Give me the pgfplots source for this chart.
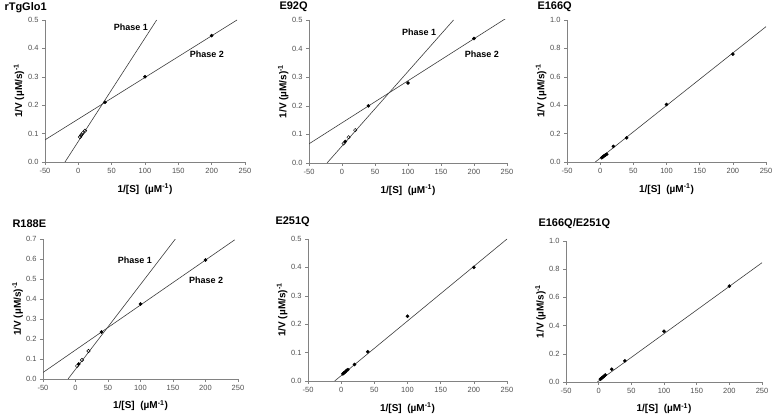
\documentclass[border=0pt]{standalone}
\usepackage{fontspec}
\setmainfont{Liberation Sans}
\usepackage{pgfplots}
\pgfplotsset{compat=1.18}
\definecolor{axgray}{RGB}{130,130,130}
\definecolor{tickgray}{RGB}{80,80,80}
\definecolor{linegray}{RGB}{60,60,60}
\tikzset{
  phaselab/.style={font=\bfseries\fontsize{9bp}{10bp}\selectfont},
  ttl/.style={anchor=west, font=\bfseries\fontsize{11bp}{12bp}\selectfont},
}
\pgfplotsset{
  panel/.style={
    scale only axis,
    anchor=south west,
    xmin=-50, xmax=250, ymin=0,
    enlargelimits=false,
    axis x line=bottom, axis y line=left,
    axis line style={-, axgray, line width=0.6pt},
    tick align=outside,
    major tick length=3bp,
    every tick/.style={axgray, line width=0.5pt},
    xtick={-50,0,50,100,150,200,250},
    tick label style={font=\fontsize{7.5bp}{8bp}\selectfont, text=tickgray},
    /pgf/number format/assume math mode=true,
    yticklabel style={/pgf/number format/.cd, fixed, fixed zerofill, precision=1},
    xticklabel style={/pgf/number format/.cd, fixed},
    xlabel={\textbf{1/[S]\ \ (µM\textsuperscript{-1})}},
    ylabel={\textbf{1/V (µM/s)\textsuperscript{-1}}},
    label style={font=\fontsize{10bp}{11bp}\selectfont},
    xlabel style={at={(axis description cs:0.5,-0.19)}, anchor=center},
    ylabel style={at={(axis description cs:-0.13,0.5)}, anchor=center},
    clip=true,
  },
  fitline/.style={linegray, line width=0.6pt, no marks},
  filled/.style={only marks, mark=*, mark size=1.6pt, mark options={fill=black, draw=black}},
  opened/.style={only marks, mark=o, mark size=1.7pt, mark options={fill=white, draw=black, line width=0.45pt}},
}
\begin{document}
\begin{tikzpicture}
\useasboundingbox (0,0) rectangle (778bp,414bp);
% titles
\node[ttl] at (1bp,406bp) {rTgGlo1};
\node[ttl] at (276bp,407bp) {E92Q};
\node[ttl] at (534bp,407bp) {E166Q};
\node[ttl] at (9bp,190bp) {R188E};
\node[ttl] at (272bp,192bp) {E251Q};
\node[ttl] at (535bp,190bp) {E166Q/E251Q};

% Panel 1: rTgGlo1
\begin{axis}[panel, at={(45bp,252bp)}, width=200bp, height=142bp, ymax=0.5,
  ytick={0,0.1,0.2,0.3,0.4,0.5}]
\addplot[fitline] coordinates {(-50,0.078) (238,0.5)};
\addplot[fitline] coordinates {(-20,0) (117.5,0.5)};
\addplot[opened] coordinates {(2.5,0.088) (4,0.093) (5,0.097) (6.7,0.102) (10,0.11)};
\addplot[filled] coordinates {(40,0.21) (100,0.30) (200,0.445)};
\node[phaselab] at (axis cs:79,0.475) {Phase 1};
\node[phaselab] at (axis cs:193,0.38) {Phase 2};
\end{axis}

% Panel 2: E92Q
\begin{axis}[panel, at={(309bp,251bp)}, width=198bp, height=143bp, ymax=0.5,
  ytick={0,0.1,0.2,0.3,0.4,0.5}]
\addplot[fitline] coordinates {(-50,0.067) (250,0.508)};
\addplot[fitline] coordinates {(-22.7,0) (169,0.5)};
\addplot[opened] coordinates {(2.5,0.068) (10,0.09) (20,0.115)};
\addplot[filled] coordinates {(5,0.075) (40,0.2) (100,0.28) (200,0.435)};
\node[phaselab] at (axis cs:117,0.458) {Phase 1};
\node[phaselab] at (axis cs:212,0.381) {Phase 2};
\end{axis}

% Panel 3: E166Q
\begin{axis}[panel, at={(567bp,252bp)}, width=199bp, height=142bp, ymax=1.0,
  ytick={0,0.2,0.4,0.6,0.8,1.0}]
\addplot[fitline] coordinates {(-7.3,0) (250,0.953)};
\addplot[filled] coordinates {(2.5,0.03) (4,0.035) (5,0.04) (6.7,0.045) (8,0.05) (10,0.055) (20,0.11) (40,0.17) (100,0.405) (200,0.76)};
\end{axis}

% Panel 4: R188E
\begin{axis}[panel, at={(43bp,35bp)}, width=195bp, height=140bp, ymax=0.7,
  ytick={0,0.1,0.2,0.3,0.4,0.5,0.6,0.7}]
\addplot[fitline] coordinates {(-50,0.0325) (245,0.696)};
\addplot[fitline] coordinates {(-11.5,0) (153.6,0.7)};
\addplot[opened] coordinates {(2.5,0.065) (10,0.095) (20,0.14)};
\addplot[filled] coordinates {(5,0.075) (40,0.235) (100,0.375) (200,0.595)};
\node[phaselab] at (axis cs:91.5,0.595) {Phase 1};
\node[phaselab] at (axis cs:201,0.495) {Phase 2};
\end{axis}

% Panel 5: E251Q
\begin{axis}[panel, at={(308bp,33bp)}, width=199bp, height=142bp, ymax=0.5,
  ytick={0,0.1,0.2,0.3,0.4,0.5}]
\addplot[fitline] coordinates {(-9.8,0) (250,0.5)};
\addplot[filled] coordinates {(2.5,0.025) (4,0.028) (5,0.03) (6.7,0.033) (8,0.037) (10,0.04) (20,0.058) (40,0.103) (100,0.228) (200,0.4)};
\end{axis}

% Panel 6: E166Q/E251Q
\begin{axis}[panel, at={(566bp,32bp)}, width=196bp, height=141bp, ymax=1.0,
  ytick={0,0.2,0.4,0.6,0.8,1.0}]
\addplot[fitline] coordinates {(-2,0) (250,0.846)};
\addplot[filled] coordinates {(2.5,0.02) (4,0.025) (5,0.03) (6.7,0.035) (8,0.04) (10,0.05) (20,0.09) (40,0.15) (100,0.36) (200,0.68)};
\end{axis}
\end{tikzpicture}
\end{document}
